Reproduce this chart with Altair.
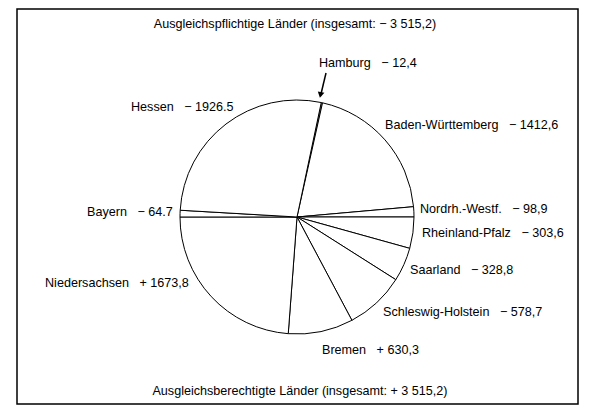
import math
import altair as alt
import pandas as pd

# ---- data ----
states = ["Hamburg", "Baden-Württemberg", "Nordrh.-Westf.", "Rheinland-Pfalz",
          "Saarland", "Schleswig-Holstein", "Bremen", "Niedersachsen", "Bayern", "Hessen"]
values = [12.4, 1412.6, 98.9, 303.6, 328.8, 578.7, 630.3, 1673.8, 64.7, 1926.5]
signs = ["−", "−", "−", "−", "−", "−", "+", "+", "−", "−"]
value_text = ["12,4", "1412,6", "98,9", "303,6", "328,8", "578,7", "630,3", "1673,8", "64.7", "1926.5"]
title_top = "Ausgleichspflichtige Länder (insgesamt: − 3 515,2)"
title_bottom = "Ausgleichsberechtigte Länder (insgesamt: + 3 515,2)"

# ---- layout (chart pixel coordinates) ----
W, H = 584, 400
CX, CY, R = 289, 209, 117
label_x = [311, 377, 412, 414, 402, 375, 314, 37, 79, 123]
label_y = [55, 117, 201, 225, 262, 304, 342, 275, 204, 99]

payers = sum(values[:3])
start = math.radians(90 - payers / sum(values) * 360)

pie_df = pd.DataFrame({"state": states, "value": values, "ord": list(range(len(states)))})

gap = "\u00a0\u00a0\u00a0"
labels_df = pd.DataFrame({
    "text": [f"{s}{gap}{g}\u00a0{v}" for s, g, v in zip(states, signs, value_text)],
    "x": label_x,
    "y": label_y,
})
titles_df = pd.DataFrame({"text": [title_top, title_bottom], "x": [287, 292], "y": [16, 383]})

FONT = "Liberation Sans"
FS = 12.6

frame = alt.Chart(pd.DataFrame({"d": [0]})).mark_rect(
    fill="transparent", stroke="black", strokeWidth=1.5
).encode(x=alt.value(9), x2=alt.value(570), y=alt.value(1), y2=alt.value(396))

pie = alt.Chart(pie_df).mark_arc(
    outerRadius=R, fill="white", stroke="black", strokeWidth=1
).encode(
    theta=alt.Theta("value:Q", stack=True,
                    scale=alt.Scale(range=[start, start + 2 * math.pi])),
    order=alt.Order("ord:Q"),
    x=alt.value(CX), y=alt.value(CY),
)

arrow_line = alt.Chart(pd.DataFrame({"d": [0]})).mark_rule(
    color="black", strokeWidth=1.5
).encode(x=alt.value(318), y=alt.value(65), x2=alt.value(312.5), y2=alt.value(88))

arrow_head = alt.Chart(pd.DataFrame({"d": [0]})).mark_point(
    shape="triangle-down", filled=True, color="black", size=45, angle=12, opacity=1
).encode(x=alt.value(312.5), y=alt.value(87))

labels = alt.Chart(labels_df).mark_text(
    align="left", baseline="middle", font=FONT, fontSize=FS, color="black"
).encode(x=alt.X("x:Q", scale=None), y=alt.Y("y:Q", scale=None), text="text:N")

titles = alt.Chart(titles_df).mark_text(
    align="center", baseline="middle", font=FONT, fontSize=FS, color="black"
).encode(x=alt.X("x:Q", scale=None), y=alt.Y("y:Q", scale=None), text="text:N")

chart = alt.layer(frame, pie, arrow_line, arrow_head, labels, titles).properties(
    width=W, height=H, autosize="none", padding=0, background="white"
).configure_view(stroke=None)

chart.save("out.html", embed_options={"renderer": "svg", "actions": False})
